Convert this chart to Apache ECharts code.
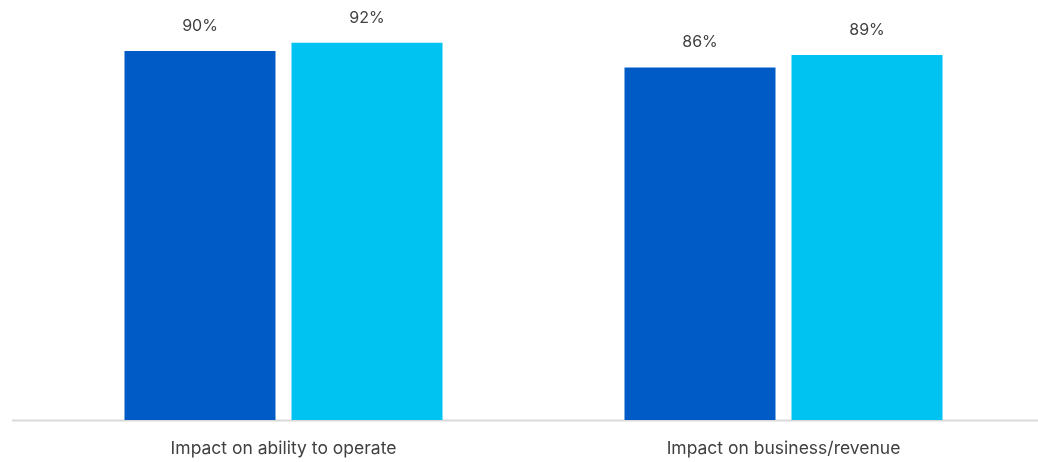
<!DOCTYPE html>
<html>
<head>
<meta charset="utf-8">
<script src="https://cdn.jsdelivr.net/npm/echarts@6/dist/echarts.min.js"></script>
<style>
  html, body { margin: 0; padding: 0; background: #ffffff; }
  #chart { width: 1038px; height: 462px; }
</style>
</head>
<body>
<div id="chart"></div>
<script>
// Categories and the two series of percentages
const categories = ['Impact on ability to operate', 'Impact on business/revenue'];
const seriesA = [90, 86];
const seriesB = [92, 89];

const FONT = 'Inter, Roboto, "Noto Sans", sans-serif';
const chart = echarts.init(document.getElementById('chart'), null, { renderer: 'canvas' });

const gridTop = 10, gridBottom = 42;

function labelStyle() {
  return {
    show: true,
    position: 'top',
    distance: 17,
    formatter: '{c}%',
    color: '#404040',
    fontSize: 16,
    fontFamily: FONT
  };
}

chart.setOption({
  animation: false,
  grid: { left: 33.5, right: 4.5, top: gridTop, bottom: gridBottom, containLabel: false },
  xAxis: {
    type: 'category',
    data: categories,
    axisLine: { show: false },
    axisTick: { show: false },
    axisLabel: { color: '#404040', fontSize: 17.5, fontFamily: FONT, margin: 20 }
  },
  yAxis: {
    type: 'value',
    min: 0,
    max: 100,
    show: false
  },
  // baseline rule running across the full width
  graphic: [{
    type: 'line',
    shape: { x1: 12, y1: 0, x2: 1038, y2: 0 },
    y: 462 - gridBottom + 0.5,
    style: { stroke: '#d9d9d9', lineWidth: 2 },
    z: 0
  }],
  series: [
    {
      type: 'bar',
      data: seriesA,
      barWidth: 151,
      barGap: '10.6%',
      itemStyle: { color: '#005BC7' },
      label: labelStyle(),
      z: 2
    },
    {
      type: 'bar',
      data: seriesB,
      barWidth: 151,
      itemStyle: { color: '#00C3F1' },
      label: labelStyle(),
      z: 2
    }
  ]
});
</script>
</body>
</html>
